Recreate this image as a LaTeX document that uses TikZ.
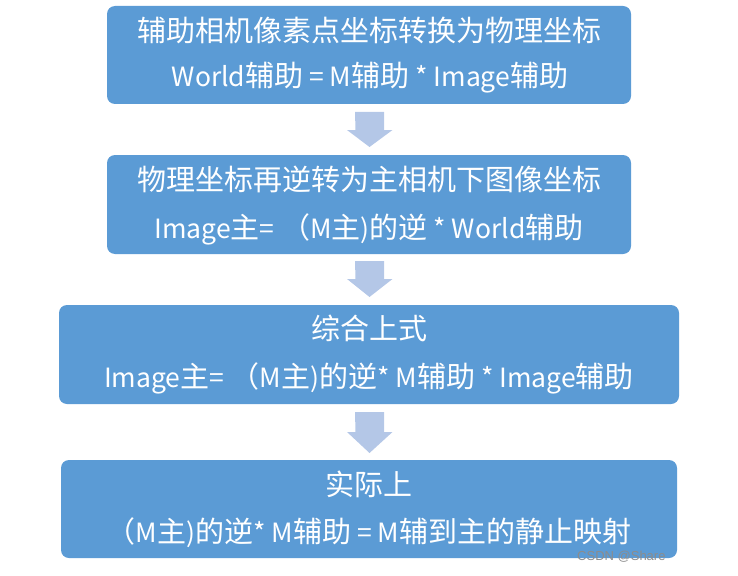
\documentclass[tikz,border=0pt]{standalone}
\usepackage{fontspec}
\setmainfont{Noto Sans CJK SC}
\newfontfamily\wmfont{Liberation Sans}
\definecolor{boxblue}{HTML}{5B9BD5}
\definecolor{arrowblue}{HTML}{B4C7E7}
\definecolor{wmgray}{HTML}{8C8C8C}
\newcommand\lt[1]{{\fontsize{26.5}{32}\selectfont #1}}
\begin{document}
\begin{tikzpicture}[x=1pt,y=-1pt,
  box/.style={fill=boxblue, draw=none, rounded corners=8pt, inner sep=0pt},
  txt/.style={text=white, font=\fontsize{29}{34}\selectfont, inner sep=0pt, anchor=center},
  blockarrow/.style={fill=arrowblue, draw=none}]
\useasboundingbox (0,0) rectangle (738,575);
% boxes
\node[box, minimum width=524pt, minimum height=98pt] (b1) at (369,55) {};
\node[box, minimum width=524pt, minimum height=99pt] (b2) at (369,204.5) {};
\node[box, minimum width=620pt, minimum height=99pt] (b3) at (369,354.5) {};
\node[box, minimum width=616pt, minimum height=98pt] (b4) at (369,509) {};
% texts
\node[txt] (t1a) at (369,30) {辅助相机像素点坐标转换为物理坐标};
\node[txt] (t1b) at (370,78) {\lt{World}辅助\lt{ = M}辅助\lt{ * Image}辅助};
\node[txt] (t2a) at (369,179) {物理坐标再逆转为主相机下图像坐标};
\node[txt] (t2b) at (369,229) {\lt{Image}主\lt{=} （\lt{M}主\lt{)}的逆\lt{ * World}辅助};
\node[txt] (t3a) at (369,328) {综合上式};
\node[txt] (t3b) at (369,378) {\lt{Image}主\lt{=} （\lt{M}主\lt{)}的逆\lt{* M}辅助\lt{ * Image}辅助};
\node[txt] (t4a) at (369,484) {实际上};
\node[txt] (t4b) at (369,533) {（\lt{M}主\lt{)}的逆\lt{* M}辅助\lt{ = M}辅到主的静止映射};
% block arrows
\coordinate (a1) at (369.5,112);
\coordinate (a2) at (369.5,261);
\coordinate (a3) at (369.5,412);
\fill[blockarrow] (a1) ++(-14.5,0) -- ++(29,0) -- ++(0,18) -- ++(8.5,0) -- ++(-23,17) -- ++(-22.5,-17) -- ++(8.5,0) -- cycle;
\fill[blockarrow] (a2) ++(-14.5,0) -- ++(29,0) -- ++(0,18) -- ++(8.5,0) -- ++(-23,18) -- ++(-22.5,-18) -- ++(8.5,0) -- cycle;
\fill[blockarrow] (a3) ++(-14.5,0) -- ++(29,0) -- ++(0,20) -- ++(8.5,0) -- ++(-23,21) -- ++(-22.5,-21) -- ++(8.5,0) -- cycle;
% watermark
\begin{scope}
\clip (570,545) rectangle (677,570);
\node[anchor=west, text=wmgray, font=\wmfont\fontsize{13}{15}\selectfont, inner sep=0pt] (wm) at (577,557) {CSDN @Share};
\end{scope}
\end{tikzpicture}
\end{document}
